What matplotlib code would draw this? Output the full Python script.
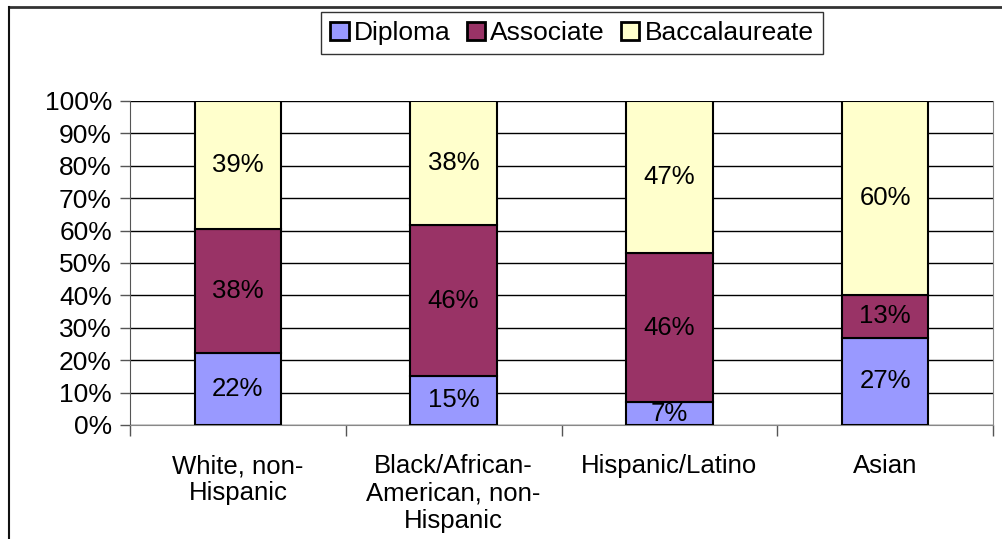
import numpy as np
import matplotlib.pyplot as plt
from matplotlib.lines import Line2D

plt.rcParams['font.family'] = ['Liberation Sans', 'DejaVu Sans']

categories = ["White, non-\nHispanic", "Black/African-\nAmerican, non-\nHispanic", "Hispanic/Latino", "Asian"]
series_names = ["Diploma", "Associate", "Baccalaureate"]
diploma = [22, 15, 7, 27]
associate = [38, 46, 46, 13]
baccalaureate = [39, 38, 47, 60]
colors = ["#9999FF", "#993366", "#FFFFCC"]

values = np.array([diploma, associate, baccalaureate], dtype=float)
shares = values / values.sum(axis=0) * 100

W, H = 1002, 539
fig = plt.figure(figsize=(W / 100, H / 100), dpi=100)
ax = fig.add_axes([130 / W, 1 - 425 / H, (993 - 130) / W, (425 - 101) / H])

x = np.arange(len(categories))
bottom = np.zeros(len(categories))
for i, name in enumerate(series_names):
    ax.bar(x, shares[i], bottom=bottom, width=0.4, color=colors[i], edgecolor="black",
           linewidth=1.5, label=name, zorder=3)
    for j in range(len(categories)):
        ax.text(x[j], bottom[j] + shares[i][j] / 2, f"{int(values[i][j])}%", ha="center",
                va="center", fontsize=18.5, zorder=4)
    bottom += shares[i]

ax.set_xlim(-0.5, len(categories) - 0.5)
ax.set_ylim(0, 100)
ax.set_yticks(range(0, 101, 10))
ax.set_yticklabels([f"{v}%" for v in range(0, 101, 10)], fontsize=19)
ax.yaxis.grid(True, color="black", linewidth=1, zorder=0)
ax.set_axisbelow(True)

ax.set_xticks(x)
ax.set_xticklabels(categories, fontsize=18.5, linespacing=1.17, va="top")
ax.set_xticks(np.arange(-0.5, len(categories)), minor=True)
ax.tick_params(axis="x", which="major", length=0, pad=21)
ax.tick_params(axis="x", which="minor", length=8, color="#555555", width=1)
ax.tick_params(axis="y", length=7, width=1, color="#555555", pad=6)

ax.spines["top"].set_visible(False)
ax.spines["left"].set_color("#555555")
ax.spines["bottom"].set_color("#888888")
ax.spines["right"].set_color("#888888")

leg = fig.legend(loc="center", bbox_to_anchor=(572 / W, 1 - 33 / H), ncol=3, fontsize=19,
                 frameon=True, fancybox=False, edgecolor="black", handlelength=0.7,
                 handleheight=0.7, handletextpad=0.2, columnspacing=0.6, borderpad=0.35,
                 borderaxespad=0)
leg.get_frame().set_linewidth(1)
for h in leg.legend_handles:
    h.set_edgecolor("black")
    h.set_linewidth(2)

# chart frame: only the top and left edges are inside the picture
fig.add_artist(Line2D([8.5 / W, 1], [1 - 6.5 / H, 1 - 6.5 / H], transform=fig.transFigure,
                      color="#333333", linewidth=2))
fig.add_artist(Line2D([8.5 / W, 8.5 / W], [0, 1 - 6.5 / H], transform=fig.transFigure,
                      color="#111111", linewidth=1.5))

fig.savefig("out.png", dpi=100)
